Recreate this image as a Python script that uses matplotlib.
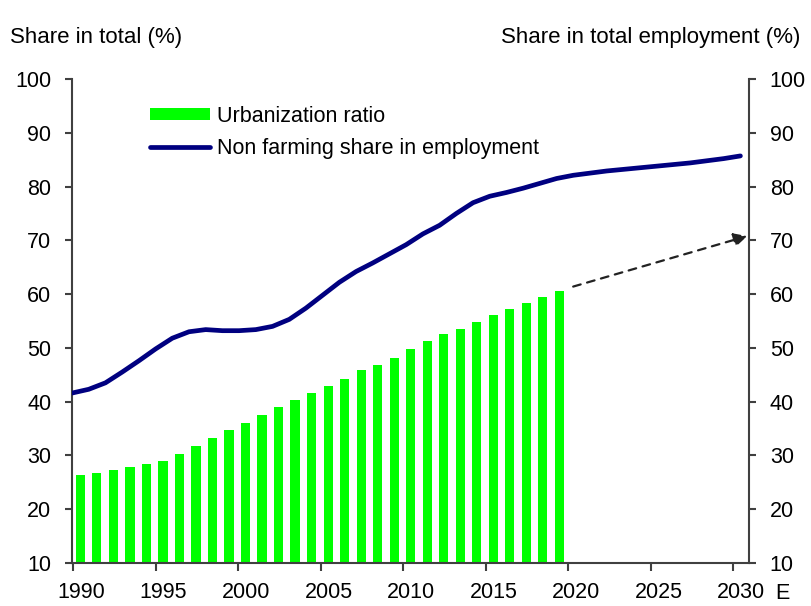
import numpy as np
import matplotlib
matplotlib.use("Agg")
import matplotlib.pyplot as plt
from matplotlib.transforms import offset_copy

# urbanization ratio (bars), 1990-2019
bar_years = np.arange(1990, 2020)
urban_ratio = [26.3, 26.8, 27.3, 27.9, 28.4, 29.0, 30.3, 31.8, 33.2, 34.7,
               36.1, 37.5, 39.0, 40.4, 41.7, 42.9, 44.2, 45.8, 46.9, 48.2,
               49.8, 51.2, 52.5, 53.6, 54.8, 56.1, 57.2, 58.4, 59.5, 60.5]

# non farming share in employment (line), 1990-2030E
line_years = np.arange(1990, 2031)
non_farm = [41.6, 42.3, 43.5, 45.5, 47.6, 49.8, 51.8, 53.0, 53.4, 53.2,
            53.2, 53.4, 54.0, 55.3, 57.4, 59.8, 62.2, 64.2, 65.8, 67.5,
            69.2, 71.2, 72.8, 75.0, 77.0, 78.2, 78.9, 79.7, 80.6, 81.5,
            82.1, 82.5, 82.9, 83.2, 83.5, 83.8, 84.1, 84.4, 84.8, 85.2, 85.7]

# projected urbanization: from last bar towards 2030
proj_years = [2020.3, 2030.85]
proj_vals = [61.4, 70.8]

x_ticks = [1990, 1995, 2000, 2005, 2010, 2015, 2020, 2025, 2030]
x_labels = ["1990", "1995", "2000", "2005", "2010", "2015", "2020", "2025", "2030"]
y_ticks = [10, 20, 30, 40, 50, 60, 70, 80, 90, 100]

plt.rcParams.update({
    "font.family": ["Liberation Sans", "DejaVu Sans"],
    "font.size": 15.5,
})

green = "#00FF00"
navy = "#000080"
axis_col = "#404040"

fig = plt.figure(figsize=(8.12, 6.06), dpi=100)
ax = fig.add_axes([0.0887, 0.0710, 0.8337, 0.7986])

bars = ax.bar(bar_years + 0.45, urban_ratio, width=0.55, bottom=0, color=green,
              linewidth=0, label="Urbanization ratio", zorder=2)

# excel draws the line slightly stretched relative to the category ticks
line_x = 1989.94 + (line_years - 1990) * (40.49 / 40)
line, = ax.plot(line_x, non_farm, color=navy, lw=3.4, solid_capstyle="round",
                solid_joinstyle="round", label="Non farming share in employment",
                zorder=3)

ax.annotate("", xy=(proj_years[1], proj_vals[1]), xytext=(proj_years[0], proj_vals[0]),
            arrowprops=dict(arrowstyle="-|>", linestyle=(0, (3.5, 3)), color="#222222",
                            lw=1.6, mutation_scale=20, shrinkA=0, shrinkB=0),
            zorder=4)

ax.set_xlim(1989.94, 2030.95)
ax.set_ylim(10, 100)
ax.set_xticks(x_ticks)
ax.set_xticklabels(x_labels)
ax.set_yticks(y_ticks)

ax2 = ax.twinx()
ax2.set_ylim(10, 100)
ax2.set_yticks(y_ticks)

for a in (ax, ax2):
    for s in a.spines.values():
        s.set_color(axis_col)
        s.set_linewidth(1.5)
    a.spines["top"].set_visible(False)
ax.spines["right"].set_visible(False)
ax2.spines["left"].set_visible(False)
ax2.spines["bottom"].set_visible(False)

ax.tick_params(axis="y", direction="out", length=5, width=1.5, color=axis_col, pad=10)
ax.tick_params(axis="x", direction="out", length=6, width=1.5, color=axis_col, pad=8)
ax2.tick_params(axis="y", direction="out", length=5, width=1.5, color=axis_col, pad=10)

# year labels sit in the middle of the category, not on the tick
for lab in ax.get_xticklabels():
    lab.set_transform(offset_copy(lab.get_transform(), fig=fig, x=8, units="dots"))

ax.annotate("E", xy=(2030.45, 0), xycoords=("data", "axes fraction"),
            xytext=(25, -14.5), textcoords="offset points", ha="left", va="top")

fig.text(10 / 812, 1 - 38 / 606, "Share in total (%)", ha="left", va="center", fontsize=16)
fig.text(800 / 812, 1 - 38 / 606, "Share in total employment (%)", ha="right",
         va="center", fontsize=16)

ax.legend([bars, line], [bars.get_label(), line.get_label()],
          loc="upper left", bbox_to_anchor=(150 / 812, 1 - 106 / 606),
          bbox_transform=fig.transFigure, frameon=False, borderpad=0,
          handlelength=2.8, handleheight=0.5, handletextpad=0.3,
          labelspacing=0.5, borderaxespad=0)

fig.savefig("out.png", dpi=100)
